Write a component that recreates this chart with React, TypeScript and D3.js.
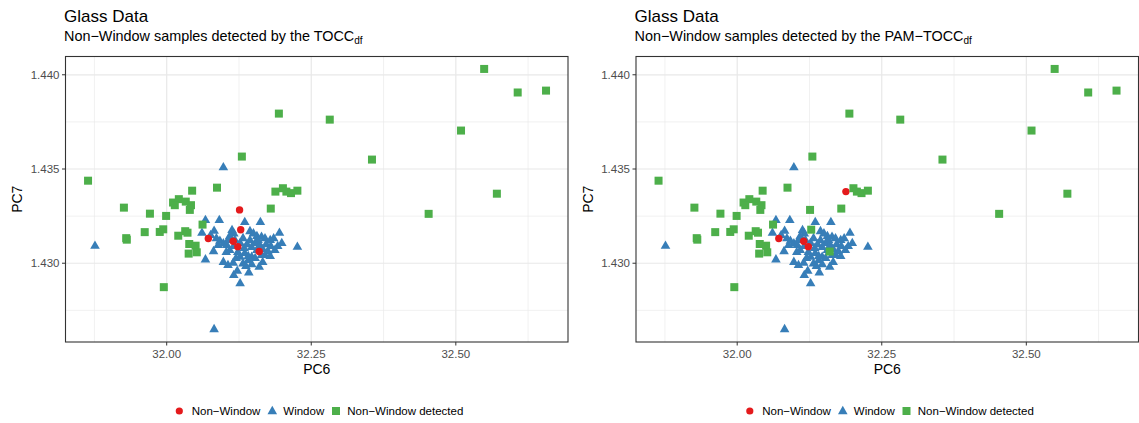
import React from "react";
import * as d3 from "d3";

// Non-window glass samples: PC6 / PC7 scores
const nonWindowPC6 = [
  31.864, 32.194, 32.13, 32.044, 32.087, 31.926, 32.011, 32.021, 32.014, 32.033,
  32.042, 32.04, 31.971, 31.999, 32.18, 32.188, 32.201, 32.207, 32.215, 32.226,
  32.549, 32.607, 32.656, 32.282, 32.509, 32.355, 32.571, 32.453, 32.062, 31.962,
  31.988, 31.994, 32.032, 32.036, 32.02, 31.93, 31.931, 32.039, 32.05, 32.038,
  32.052, 31.995, 32.126, 32.128, 32.072, 32.115, 32.123, 32.16,
];
const nonWindowPC7 = [
  1.43438, 1.43794, 1.43566, 1.43385, 1.43401, 1.43295, 1.43322, 1.4334, 1.43308, 1.43327,
  1.43308, 1.43283, 1.43263, 1.43251, 1.4329, 1.4338, 1.43398, 1.4338, 1.43372, 1.43385,
  1.44031, 1.43906, 1.43916, 1.43762, 1.43704, 1.4355, 1.43369, 1.43262, 1.43205, 1.43165,
  1.43166, 1.4318, 1.4317, 1.43162, 1.43146, 1.43133, 1.43125, 1.43102, 1.43093, 1.43051,
  1.43058, 1.42873, 1.43283, 1.43178, 1.43131, 1.43117, 1.43088, 1.43062,
];
// 1 = flagged as outlier by the method
const detectedTOCC = [
  1, 1, 1, 1, 1, 1, 1, 1, 1, 1, 1, 1, 1, 1, 1, 1, 1, 1, 1, 1,
  1, 1, 1, 1, 1, 1, 1, 1, 1, 1, 1, 1, 1, 1, 1, 1, 1, 1, 1, 1,
  1, 1, 0, 0, 0, 0, 0, 0,
];
const detectedPAMTOCC = [
  1, 1, 1, 1, 1, 1, 1, 1, 1, 1, 1, 1, 1, 1, 1, 0, 1, 1, 1, 1,
  1, 1, 1, 1, 1, 1, 1, 1, 1, 1, 1, 1, 1, 1, 1, 1, 1, 1, 1, 1,
  1, 1, 1, 1, 0, 0, 0, 1,
];

// Window glass samples: PC6 / PC7 scores
const windowPC6 = [
  32.098, 31.876, 32.082, 32.226, 32.067, 32.091, 32.135, 32.162, 32.061, 32.082,
  32.076, 32.113, 32.116, 32.109, 32.144, 32.15, 32.156, 32.164, 32.17, 32.179,
  32.185, 32.195, 32.086, 32.092, 32.098, 32.104, 32.081, 32.067, 32.098, 32.106,
  32.115, 32.127, 32.132, 32.141, 32.147, 32.166, 32.16, 32.142, 32.116, 32.122,
  32.127, 32.118, 32.127, 32.134, 32.139, 32.144, 32.147, 32.153, 32.156, 32.161,
  32.166, 32.172, 32.175, 32.18, 32.187, 32.192, 32.135, 32.141, 32.123, 32.109,
  32.103, 32.153, 32.17, 32.132, 32.158, 32.12, 32.199, 32.147, 32.179, 32.106,
  32.089, 32.137, 32.164, 32.116,
];
const windowPC7 = [
  1.4351, 1.43093, 1.42651, 1.43088, 1.4323, 1.4323, 1.43219, 1.43219, 1.43162, 1.43173,
  1.4315, 1.43177, 1.43159, 1.43145, 1.43171, 1.43159, 1.43145, 1.43141, 1.43133, 1.43124,
  1.43133, 1.43162, 1.43133, 1.4312, 1.43106, 1.43097, 1.43065, 1.43021, 1.43008, 1.42991,
  1.43003, 1.43035, 1.43, 1.43018, 1.43035, 1.43007, 1.42982, 1.42952, 1.42938, 1.42961,
  1.42894, 1.43124, 1.43108, 1.43081, 1.43102, 1.43124, 1.43087, 1.43108, 1.43071, 1.43097,
  1.43076, 1.43102, 1.43065, 1.43092, 1.43071, 1.43092, 1.43055, 1.43039, 1.4306, 1.43071,
  1.4306, 1.43028, 1.43044, 1.43134, 1.43124, 1.43028, 1.43108, 1.42996, 1.43039, 1.43124,
  1.43097, 1.42986, 1.43044, 1.43092,
];

const xDomain = [31.825, 32.694];
const yDomain = [1.42582, 1.44097];
const xMajor = [32.0, 32.25, 32.5];
const xMinor = [31.875, 32.125, 32.375, 32.625];
const yMajor = [1.43, 1.435, 1.44];
const yMinor = [1.4275, 1.4325, 1.4375];

const legendLabels = ["Non\u2212Window", "Window", "Non\u2212Window detected"];
const methods = ["TOCC", "PAM\u2212TOCC"];
const COLORS = { red: "#E41A1C", blue: "#377EB8", green: "#4DAF4A" };
const FONT = "'Liberation Sans', Arial, Helvetica, sans-serif";

type PanelProps = { ox: number; method: string; flags: number[] };

function Triangle({ x, y, s, fill }: { x: number; y: number; s: number; fill: string }) {
  const h = s * 0.866;
  return (
    <path
      d={`M${x},${y - h * 0.62}L${x + s / 2},${y + h * 0.38}L${x - s / 2},${y + h * 0.38}Z`}
      fill={fill}
    />
  );
}

function Panel({ ox, method, flags }: PanelProps) {
  const left = ox + 65.5;
  const right = ox + 568;
  const top = 56.5;
  const bottom = 342;
  const x = d3.scaleLinear().domain(xDomain).range([left, right]);
  const y = d3.scaleLinear().domain(yDomain).range([bottom, top]);
  const fx = d3.format(".2f");
  const fy = d3.format(".3f");

  const nonWin = nonWindowPC6.map((v, i) => ({ x: v, y: nonWindowPC7[i], det: flags[i] === 1 }));
  const win = windowPC6.map((v, i) => ({ x: v, y: windowPC7[i] }));

  const legY = 411;
  const legX = ox + 179.3;

  return (
    <g>
      <text x={ox + 64} y={21.5} fontSize={17} fill="#000" fontFamily={FONT}>
        Glass Data
      </text>
      <text x={ox + 64} y={40.5} fontSize={14.4} fill="#000" fontFamily={FONT}>
        {`Non\u2212Window samples detected by the ${method}`}
        <tspan fontSize={10} dy={3}>df</tspan>
      </text>

      <rect x={left} y={top} width={right - left} height={bottom - top} fill="#fff" />
      {xMinor.map((t) => (
        <line key={"xm" + t} x1={x(t)} x2={x(t)} y1={top} y2={bottom} stroke="#EBEBEB" strokeWidth={0.7} />
      ))}
      {yMinor.map((t) => (
        <line key={"ym" + t} x1={left} x2={right} y1={y(t)} y2={y(t)} stroke="#EBEBEB" strokeWidth={0.7} />
      ))}
      {xMajor.map((t) => (
        <line key={"xM" + t} x1={x(t)} x2={x(t)} y1={top} y2={bottom} stroke="#E8E8E8" strokeWidth={1.2} />
      ))}
      {yMajor.map((t) => (
        <line key={"yM" + t} x1={left} x2={right} y1={y(t)} y2={y(t)} stroke="#E8E8E8" strokeWidth={1.2} />
      ))}

      {win.map((d, i) => (
        <Triangle key={"w" + i} x={x(d.x)} y={y(d.y)} s={9.6} fill={COLORS.blue} />
      ))}
      {nonWin.filter((d) => !d.det).map((d, i) => (
        <circle key={"n" + i} cx={x(d.x)} cy={y(d.y)} r={3.7} fill={COLORS.red} />
      ))}
      {nonWin.filter((d) => d.det).map((d, i) => (
        <rect key={"d" + i} x={x(d.x) - 4} y={y(d.y) - 4} width={8} height={8} fill={COLORS.green} />
      ))}

      <rect x={left} y={top} width={right - left} height={bottom - top} fill="none" stroke="#333" strokeWidth={1.1} />

      {xMajor.map((t) => (
        <g key={"xt" + t}>
          <line x1={x(t)} x2={x(t)} y1={bottom} y2={bottom + 3.5} stroke="#333" strokeWidth={1} />
          <text x={x(t)} y={358} textAnchor="middle" fontSize={11.5} fill="#4D4D4D" fontFamily={FONT}>
            {fx(t)}
          </text>
        </g>
      ))}
      {yMajor.map((t) => (
        <g key={"yt" + t}>
          <line x1={left - 3.5} x2={left} y1={y(t)} y2={y(t)} stroke="#333" strokeWidth={1} />
          <text x={left - 6} y={y(t) + 4} textAnchor="end" fontSize={11.5} fill="#4D4D4D" fontFamily={FONT}>
            {fy(t)}
          </text>
        </g>
      ))}
      <text x={(left + right) / 2} y={374} textAnchor="middle" fontSize={14} fill="#000" fontFamily={FONT}>
        PC6
      </text>
      <text
        transform={`translate(${ox + 22},${(top + bottom) / 2}) rotate(-90)`}
        textAnchor="middle"
        fontSize={14}
        fill="#000"
        fontFamily={FONT}
      >
        PC7
      </text>

      <circle cx={legX} cy={legY} r={3.6} fill={COLORS.red} />
      <text x={legX + 12.4} y={legY + 4} fontSize={11.5} fill="#000" fontFamily={FONT}>
        {legendLabels[0]}
      </text>
      <Triangle x={legX + 93} y={legY} s={9.6} fill={COLORS.blue} />
      <text x={legX + 104} y={legY + 4} fontSize={11.5} fill="#000" fontFamily={FONT}>
        {legendLabels[1]}
      </text>
      <rect x={legX + 156.7 - 4} y={legY - 4} width={8} height={8} fill={COLORS.green} />
      <text x={legX + 168} y={legY + 4} fontSize={11.5} fill="#000" fontFamily={FONT}>
        {legendLabels[2]}
      </text>
    </g>
  );
}

export default function App() {
  return (
    <div style={{ position: "absolute", left: 0, top: 0 }}>
      <svg width={1139} height={423} style={{ display: "block", background: "#fff" }}>
        <Panel ox={0} method={methods[0]} flags={detectedTOCC} />
        <Panel ox={570.5} method={methods[1]} flags={detectedPAMTOCC} />
      </svg>
    </div>
  );
}
